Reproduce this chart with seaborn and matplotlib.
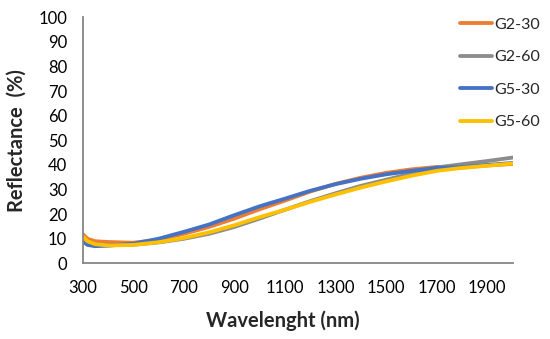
import matplotlib
matplotlib.use('Agg')
import matplotlib.pyplot as plt
from matplotlib.ticker import MultipleLocator
import pandas as pd
import seaborn as sns

wavelength = [300, 320, 350, 400, 500, 600, 700, 800, 900, 1000,
              1100, 1200, 1300, 1400, 1500, 1600, 1700, 1800, 1900, 2000]
g2_30 = [12.0, 10.0, 9.0, 8.7, 8.4, 9.6, 12.0, 14.8, 18.2, 22.0,
         25.5, 29.2, 32.3, 34.8, 36.8, 38.2, 39.2, 39.0, 39.8, 40.4]
g2_60 = [10.5, 8.5, 7.8, 7.5, 7.6, 8.5, 10.0, 12.0, 14.8, 18.2,
         21.8, 25.3, 28.5, 31.5, 34.0, 36.5, 39.0, 40.3, 41.6, 43.0]
g5_30 = [9.0, 7.5, 7.0, 7.2, 8.0, 10.0, 12.8, 15.8, 19.6, 23.2,
         26.3, 29.5, 32.2, 34.4, 36.2, 37.6, 38.8, 39.1, 40.0, 40.8]
g5_60 = [11.0, 9.0, 7.8, 7.3, 7.5, 8.6, 10.3, 12.6, 15.5, 18.8,
         21.8, 25.0, 28.0, 30.8, 33.3, 35.6, 37.6, 38.8, 39.7, 40.6]
series = ['G2-30', 'G2-60', 'G5-30', 'G5-60']
colors = ['#ED7D31', '#8C8C8C', '#4472C4', '#FFC000']
x_tick_labels = [300, 500, 700, 900, 1100, 1300, 1500, 1700, 1900]

df = pd.DataFrame({'Wavelength': wavelength * 4,
                   'Reflectance': g2_30 + g2_60 + g5_30 + g5_60,
                   'Sample': [s for s in series for _ in wavelength]})

sns.set_style('white')
plt.rcParams['font.family'] = ['Lato', 'DejaVu Sans']

fig = plt.figure(figsize=(5.5, 3.39), dpi=100)
ax = fig.add_axes([0.150, 0.223, 0.782, 0.726])
sns.lineplot(data=df, x='Wavelength', y='Reflectance', hue='Sample',
             hue_order=series, palette=colors, linewidth=2.75, ax=ax)

ax.set_xlim(300, 2000)
ax.set_ylim(0, 100)
ax.set_xticks(x_tick_labels)
ax.xaxis.set_minor_locator(MultipleLocator(100))
ax.yaxis.set_major_locator(MultipleLocator(10))
ax.yaxis.set_minor_locator(MultipleLocator(5))
axis_gray = '#868686'
ax.tick_params(which='both', direction='in', length=5, width=1.2, color=axis_gray,
               labelsize=12, labelcolor='black')
ax.tick_params(axis='y', which='both', pad=11)
ax.tick_params(axis='x', which='both', pad=12)
for side in ['top', 'right']:
    ax.spines[side].set_visible(False)
for side in ['left', 'bottom']:
    ax.spines[side].set_color(axis_gray)
    ax.spines[side].set_linewidth(1.3)

ax.set_xlabel('Wavelenght (nm)', fontsize=14.5, fontweight='bold')
ax.xaxis.set_label_coords(0.465, -0.19)
ax.set_ylabel('Reflectance  (%)', fontsize=14.5, fontweight='bold')
ax.yaxis.set_label_coords(-0.13, 0.5)

handles, labels = ax.get_legend_handles_labels()
ax.legend(handles, labels, loc='upper left', bbox_to_anchor=(0.81, 0.991),
          bbox_transform=fig.transFigure, frameon=False, fontsize=11.5,
          handlelength=2.0, handletextpad=0.15, labelspacing=1.15)

fig.savefig('out.png', dpi=100)
